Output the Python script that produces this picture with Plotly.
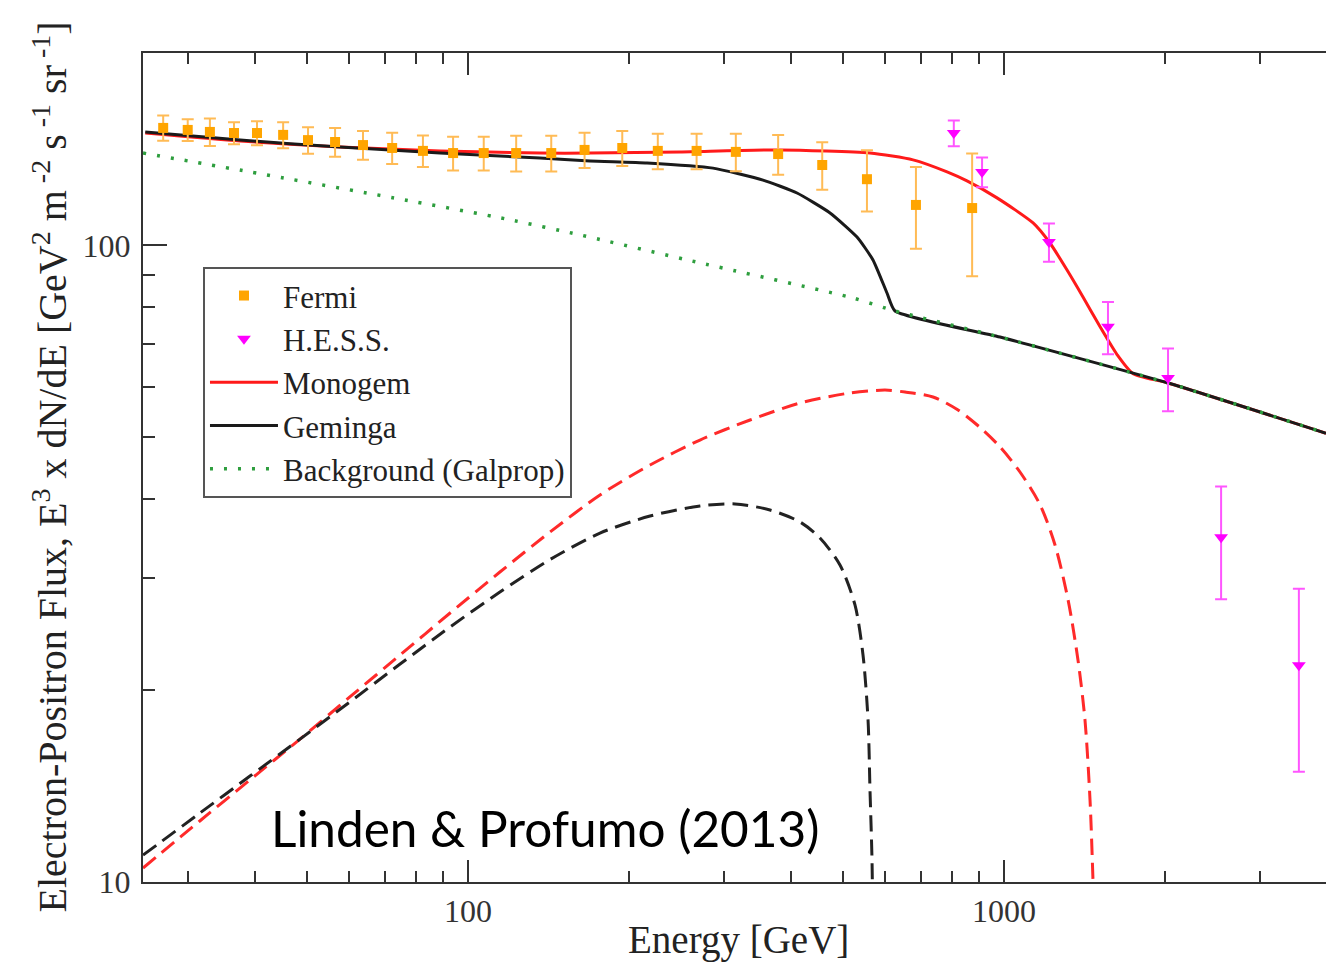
import plotly.graph_objects as go

# ---- Fermi-LAT electron+positron data: energy [GeV], E^3 dN/dE, 1-sigma error
fermi_E = [27.0, 30.0, 33.0, 36.6, 40.4, 45.2, 50.3, 56.5, 63.7, 72.2, 82.4, 93.8, 107,
           123, 143, 165, 194, 226, 267, 316, 379, 458, 555, 685, 872]
fermi_F = [153.0, 151.9, 150.8, 150.2, 150.2, 149.2, 146.4, 145.4, 143.8, 142.3, 140.8,
           139.7, 139.7, 139.7, 139.7, 141.3, 142.3, 140.8, 140.8, 140.3, 139.2, 133.8,
           127.1, 115.8, 114.5]
fermi_err = [7, 6, 7.5, 6, 6.5, 7, 7, 7.5, 7.5, 8, 8, 8.5, 8.5, 9, 9, 9, 9, 9, 9, 9.5,
             10, 11.5, 14, 17, 25]

# ---- H.E.S.S. data
hess_E = [806, 910, 1213, 1563, 2023, 2541, 3549]
hess_F = [150.2, 130.5, 101.3, 74.5, 61.9, 34.8, 21.9]
hess_err = [7, 7, 7, 7, 7, 7, 7]

# ---- Galprop background
bg_E = [24.76, 39.2, 74.7, 118.2, 161.8, 270.9, 522.7, 626.0, 983, 2023, 3988]
bg_F = [139.7, 130.5, 118.3, 110.0, 103.9, 93.9, 82.7, 78.9, 71.8, 60.8, 50.7]

# ---- Background + Monogem (total)
mono_tot_E = [25.0, 37.6, 57.7, 88.7, 136.2, 168.9, 248.6, 382.1, 562.3, 676.4, 783.0,
              853.0, 970.3, 1133, 1218, 1311, 1404, 1511, 1625, 1741, 2023, 3988]
mono_tot_F = [150.2, 145.9, 142.8, 140.8, 139.7, 139.7, 140.3, 141.3, 139.7, 136.3, 130.5,
              126.3, 118.8, 108.5, 100.9, 91.5, 83.0, 74.5, 67.4, 62.9, 60.8, 50.7]

# ---- Background + Geminga (total)
gem_tot_E = [25.0, 37.6, 57.7, 88.7, 136.2, 168.9, 215.8, 286.5, 355.1, 411.0, 473.6,
             531.8, 569.6, 604.9, 626.0, 983, 2023, 3988]
gem_tot_F = [150.8, 146.4, 142.8, 139.7, 137.2, 135.8, 134.8, 132.3, 126.7, 120.9, 112.5,
             103.1, 94.9, 84.2, 78.9, 71.8, 60.8, 50.7]

# ---- Single-source contributions
mono_E = [24.76, 31.6, 39.2, 48.6, 60.2, 74.7, 92.6, 114.7, 142.2, 176.3, 218.6, 270.9,
          335.9, 416.3, 516.1, 599.8, 653.6, 737.1, 820.9, 913.6, 983, 1071, 1168, 1245,
          1317, 1374, 1416, 1447, 1466, 1479]
mono_F = [10.52, 12.47, 14.47, 16.77, 19.53, 22.73, 26.46, 30.69, 35.46, 40.55, 45.19,
          49.47, 53.19, 56.56, 58.65, 59.27, 58.85, 57.80, 55.14, 51.30, 48.25, 44.07,
          39.12, 33.84, 27.73, 22.33, 17.97, 13.45, 10.0, 8.0]

gem_E = [24.76, 31.6, 39.2, 48.6, 60.2, 74.7, 92.6, 114.7, 142.2, 176.3, 218.6, 270.9,
         314.8, 365.9, 416.3, 453.6, 494.3, 527.2, 545.7, 557.6, 562.3, 567.2, 569.6]
gem_F = [11.02, 12.83, 14.67, 16.77, 19.18, 22.0, 25.16, 28.54, 32.1, 35.33, 37.58,
         38.98, 39.26, 38.41, 36.78, 34.71, 31.48, 27.24, 22.73, 17.97, 13.95, 10.83, 8.0]

SERIF = "Liberation Serif, Times New Roman, serif"
AX = "#333333"

fig = go.Figure()

fig.add_trace(go.Scatter(x=mono_E, y=mono_F, mode="lines", showlegend=False,
                         line=dict(color="#ff2a2a", width=3, dash="16px,8px", shape="spline",
                                   smoothing=0.8)))
fig.add_trace(go.Scatter(x=gem_E, y=gem_F, mode="lines", showlegend=False,
                         line=dict(color="#222222", width=3, dash="16px,8px", shape="spline",
                                   smoothing=0.8)))
fig.add_trace(go.Scatter(x=mono_tot_E, y=mono_tot_F, mode="lines", name="Monogem",
                         legendrank=3,
                         line=dict(color="#ff1a1a", width=3, shape="spline", smoothing=0.6)))
fig.add_trace(go.Scatter(x=gem_tot_E, y=gem_tot_F, mode="lines", name="Geminga",
                         legendrank=4,
                         line=dict(color="#1a1a1a", width=3, shape="spline", smoothing=0.5)))
fig.add_trace(go.Scatter(x=bg_E, y=bg_F, mode="lines", name="Background (Galprop)",
                         legendrank=5,
                         line=dict(color="#2e9e3e", width=3.5, dash="3px,11px",
                                   shape="spline", smoothing=0.6)))
fig.add_trace(go.Scatter(x=fermi_E, y=fermi_F, mode="markers", name="Fermi", legendrank=1,
                         marker=dict(symbol="square", size=10, color="#ffa500"),
                         error_y=dict(type="data", array=fermi_err, color="#ffbb55",
                                      thickness=2, width=6)))
fig.add_trace(go.Scatter(x=hess_E, y=hess_F, mode="markers", name="H.E.S.S.", legendrank=2,
                         marker=dict(symbol="triangle-down", size=12, color="#ff00ff"),
                         error_y=dict(type="data", array=hess_err, color="#ff55ff",
                                      thickness=2, width=6)))

XR = [1.3937, 3.6007]
YR = [1.0, 2.3024]

fig.update_layout(
    width=1326, height=966,
    margin=dict(l=143, r=0, t=53, b=84),
    paper_bgcolor="white", plot_bgcolor="white",
    font=dict(family=SERIF, color=AX),
    xaxis=dict(type="log", range=XR, showgrid=False, zeroline=False,
               showline=True, linecolor=AX, linewidth=2, mirror="allticks",
               ticks="inside", ticklen=22, tickwidth=2, tickcolor=AX,
               tickvals=[100, 1000], ticktext=["100", "1000"],
               tickfont=dict(family=SERIF, size=32, color=AX), ticklabelstandoff=0,
               minor=dict(tickvals=[30, 40, 50, 60, 70, 80, 90, 200, 300, 400, 500, 600,
                                    700, 800, 900, 2000, 3000],
                          ticks="inside", ticklen=11, tickwidth=2, tickcolor=AX,
                          showgrid=False)),
    yaxis=dict(type="log", range=YR, showgrid=False, zeroline=False,
               showline=True, linecolor=AX, linewidth=2,
               ticks="inside", ticklen=24, tickwidth=2, tickcolor=AX,
               tickvals=[10, 100], ticktext=["10", "100"],
               tickfont=dict(family=SERIF, size=32, color=AX), ticklabelstandoff=4,
               minor=dict(tickvals=[20, 30, 40, 50, 60, 70, 80, 90],
                          ticks="inside", ticklen=12, tickwidth=2, tickcolor=AX,
                          showgrid=False)),
    yaxis2=dict(type="log", range=YR, overlaying="y", side="right", anchor="x",
                showgrid=False, zeroline=False, showline=False, showticklabels=False,
                ticks="inside", ticklen=22, tickwidth=2, tickcolor=AX,
                tickvals=[10, 100],
                minor=dict(tickvals=[20, 30, 40, 50, 60, 70, 80, 90],
                           ticks="inside", ticklen=11, tickwidth=2, tickcolor=AX)),
    legend=dict(x=0.0507, y=0.742, xanchor="left", yanchor="top",
                bgcolor="white", bordercolor="#555555", borderwidth=2,
                font=dict(family=SERIF, size=31, color="#222222"),
                itemwidth=68, tracegroupgap=0),
    showlegend=True,
)

fig.add_annotation(text="Energy [GeV]", xref="paper", yref="paper", x=0.503, y=-0.07,
                   xanchor="center", yanchor="middle", showarrow=False,
                   font=dict(family=SERIF, size=39, color="#222222"))
fig.add_annotation(
    text="Electron-Positron Flux, E<sup>3</sup> x dN/dE [GeV<sup>2</sup> m<sup> -2</sup> "
         "s<sup> -1</sup> sr<sup> -1</sup>]",
    xref="paper", yref="paper", x=-0.0786, y=0.5, xanchor="center", yanchor="middle",
    textangle=-90, showarrow=False, font=dict(family=SERIF, size=40, color="#222222"))
fig.add_annotation(text="Linden &amp; Profumo (2013)", xref="paper", yref="paper",
                   x=0.3398, y=0.0651, xanchor="center", yanchor="middle", showarrow=False,
                   font=dict(family="Lato, sans-serif", size=49.5, color="black"))

fig.write_html("out.html")
